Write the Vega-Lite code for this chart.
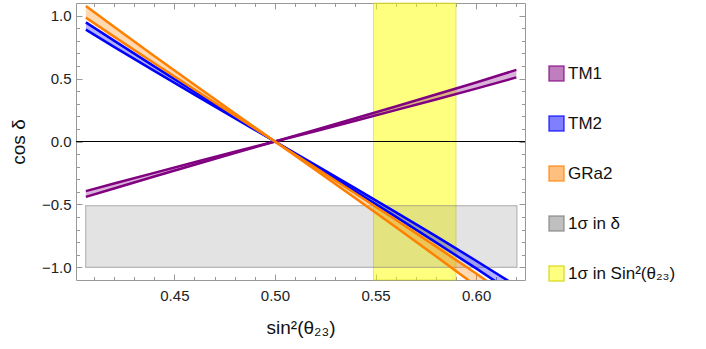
{
  "$schema": "https://vega.github.io/schema/vega-lite/v6.json",
  "width": 449,
  "height": 277,
  "autosize": {"type": "none"},
  "padding": {"left": 76, "top": 3, "right": 181, "bottom": 69},
  "background": "white",
  "config": {
    "font": "Liberation Sans",
    "view": {"stroke": "#999999", "strokeWidth": 1},
    "axis": {"grid": false, "domain": false, "tickColor": "#999999", "tickWidth": 1, "labelColor": "#222222", "titleColor": "#111111", "labelFont": "Liberation Sans", "titleFont": "Liberation Sans", "titleFontWeight": "normal", "labelFontSize": 15, "titleFontSize": 19}
  },
  "datasets": {
    "curves": [
      {"model": "TM1", "s": 0.406, "a": -0.394, "b": -0.440},
      {"model": "TM1", "s": 0.42, "a": -0.334, "b": -0.373},
      {"model": "TM1", "s": 0.44, "a": -0.249, "b": -0.278},
      {"model": "TM1", "s": 0.46, "a": -0.165, "b": -0.185},
      {"model": "TM1", "s": 0.48, "a": -0.082, "b": -0.092},
      {"model": "TM1", "s": 0.50, "a": 0.0, "b": 0.0},
      {"model": "TM1", "s": 0.52, "a": 0.082, "b": 0.092},
      {"model": "TM1", "s": 0.54, "a": 0.165, "b": 0.185},
      {"model": "TM1", "s": 0.56, "a": 0.249, "b": 0.278},
      {"model": "TM1", "s": 0.58, "a": 0.334, "b": 0.373},
      {"model": "TM1", "s": 0.60, "a": 0.420, "b": 0.469},
      {"model": "TM1", "s": 0.62, "a": 0.509, "b": 0.569},
      {"model": "TM2", "s": 0.406, "a": 0.888, "b": 0.946},
      {"model": "TM2", "s": 0.42, "a": 0.752, "b": 0.801},
      {"model": "TM2", "s": 0.44, "a": 0.561, "b": 0.597},
      {"model": "TM2", "s": 0.46, "a": 0.372, "b": 0.396},
      {"model": "TM2", "s": 0.48, "a": 0.186, "b": 0.198},
      {"model": "TM2", "s": 0.50, "a": 0.0, "b": 0.0},
      {"model": "TM2", "s": 0.52, "a": -0.186, "b": -0.198},
      {"model": "TM2", "s": 0.54, "a": -0.372, "b": -0.396},
      {"model": "TM2", "s": 0.56, "a": -0.561, "b": -0.597},
      {"model": "TM2", "s": 0.58, "a": -0.752, "b": -0.801},
      {"model": "TM2", "s": 0.60, "a": -0.947, "b": -1.008},
      {"model": "TM2", "s": 0.62, "a": -1.147, "b": -1.221},
      {"model": "GRa2", "s": 0.406, "a": 0.984, "b": 1.076},
      {"model": "GRa2", "s": 0.42, "a": 0.833, "b": 0.911},
      {"model": "GRa2", "s": 0.44, "a": 0.621, "b": 0.679},
      {"model": "GRa2", "s": 0.46, "a": 0.413, "b": 0.451},
      {"model": "GRa2", "s": 0.48, "a": 0.206, "b": 0.225},
      {"model": "GRa2", "s": 0.50, "a": 0.0, "b": 0.0},
      {"model": "GRa2", "s": 0.52, "a": -0.206, "b": -0.225},
      {"model": "GRa2", "s": 0.54, "a": -0.413, "b": -0.451},
      {"model": "GRa2", "s": 0.56, "a": -0.621, "b": -0.679},
      {"model": "GRa2", "s": 0.58, "a": -0.833, "b": -0.911},
      {"model": "GRa2", "s": 0.60, "a": -1.049, "b": -1.147},
      {"model": "GRa2", "s": 0.62, "a": -1.271, "b": -1.389}
    ]
  },
  "layer": [
    {
      "data": {"values": [{"model": "1σ in Sin²(θ₂₃)", "x1": 0.549, "x2": 0.590, "y1": -1.1, "y2": 1.1}]},
      "mark": {"type": "rect", "fillOpacity": 0.5, "strokeWidth": 1, "strokeOpacity": 0.5},
      "encoding": {
        "x": {"field": "x1", "type": "quantitative", "scale": {"domain": [0.4011, 0.6243], "nice": false, "zero": false},
          "axis": {"orient": "bottom", "values": [0.45, 0.5, 0.55, 0.6], "format": ".2f", "tickSize": -6, "labelPadding": 14, "title": "sin²(θ₂₃)", "titlePadding": 15}},
        "x2": {"field": "x2"},
        "y": {"field": "y1", "type": "quantitative", "scale": {"domain": [-1.1, 1.1], "nice": false, "zero": false},
          "axis": {"orient": "left", "values": [-1, -0.5, 0, 0.5, 1], "labelExpr": "datum.value < 0 ? '\u2212' + format(-datum.value, '.1f') : format(datum.value, '.1f')", "tickSize": -6, "labelPadding": 11, "title": "cos δ", "titlePadding": 13}},
        "y2": {"field": "y2"},
        "fill": {"field": "model", "type": "nominal",
          "scale": {"domain": ["TM1", "TM2", "GRa2", "1σ in δ", "1σ in Sin²(θ₂₃)"], "range": ["#800080", "#0000ff", "#ff8000", "#808080", "#ffff00"]},
          "legend": {"title": null, "orient": "none", "legendX": 472, "legendY": 62, "symbolType": "square", "symbolSize": 225, "rowPadding": 29, "labelFontSize": 17, "labelFont": "Liberation Sans", "labelColor": "#111111", "symbolStrokeWidth": 1.5, "labelOffset": 3,
            "encode": {"symbols": {"update": {"fillOpacity": {"value": 0.5}, "strokeOpacity": {"value": 0.7}, "opacity": {"value": 1}}}}}},
        "stroke": {"field": "model", "type": "nominal",
          "scale": {"domain": ["TM1", "TM2", "GRa2", "1σ in δ", "1σ in Sin²(θ₂₃)"], "range": ["#800080", "#0000ff", "#ff8000", "#808080", "#d0d000"]},
          "legend": {"title": null, "orient": "none", "legendX": 472, "legendY": 62, "symbolType": "square", "symbolSize": 225, "rowPadding": 29, "labelFontSize": 17, "labelFont": "Liberation Sans", "labelColor": "#111111", "symbolStrokeWidth": 1.5, "labelOffset": 3,
            "encode": {"symbols": {"update": {"fillOpacity": {"value": 0.5}, "strokeOpacity": {"value": 0.7}, "opacity": {"value": 1}}}}}}
      }
    },
    {
      "data": {"values": [{"model": "1σ in δ", "x1": 0.4059, "x2": 0.6203, "y1": -1.0, "y2": -0.51}]},
      "mark": {"type": "rect", "fillOpacity": 0.22, "strokeWidth": 1.2, "strokeOpacity": 0.5},
      "encoding": {
        "x": {"field": "x1", "type": "quantitative", "axis": {"orient": "top", "values": [0.45, 0.5, 0.55, 0.6], "labels": false, "title": null, "tickSize": -6}},
        "x2": {"field": "x2"},
        "y": {"field": "y1", "type": "quantitative", "axis": {"orient": "right", "values": [-1, -0.5, 0, 0.5, 1], "labels": false, "title": null, "tickSize": -6}},
        "y2": {"field": "y2"},
        "fill": {"field": "model", "type": "nominal"},
        "stroke": {"field": "model", "type": "nominal"}
      }
    },
    {
      "data": {"values": [{"z": 0}]},
      "mark": {"type": "rule", "color": "black", "strokeWidth": 1},
      "encoding": {"y": {"field": "z", "type": "quantitative", "axis": null}}
    },
    {
      "data": {"name": "curves"},
      "mark": {"type": "area", "fillOpacity": 0.3, "clip": true},
      "encoding": {
        "x": {"field": "s", "type": "quantitative", "axis": {"orient": "bottom", "values": [0.41, 0.42, 0.43, 0.44, 0.46, 0.47, 0.48, 0.49, 0.51, 0.52, 0.53, 0.54, 0.56, 0.57, 0.58, 0.59, 0.61, 0.62], "labels": false, "title": null, "tickSize": -3.5}},
        "y": {"field": "a", "type": "quantitative", "axis": {"orient": "left", "values": [-0.9, -0.8, -0.7, -0.6, -0.4, -0.3, -0.2, -0.1, 0.1, 0.2, 0.3, 0.4, 0.6, 0.7, 0.8, 0.9], "labels": false, "title": null, "tickSize": -3.5}},
        "y2": {"field": "b"},
        "fill": {"field": "model", "type": "nominal"},
        "detail": {"field": "model"}
      }
    },
    {
      "data": {"name": "curves"},
      "transform": [{"fold": ["a", "b"], "as": ["bound", "v"]}],
      "mark": {"type": "line", "strokeWidth": 2.5, "clip": true},
      "encoding": {
        "x": {"field": "s", "type": "quantitative", "axis": {"orient": "top", "values": [0.41, 0.42, 0.43, 0.44, 0.46, 0.47, 0.48, 0.49, 0.51, 0.52, 0.53, 0.54, 0.56, 0.57, 0.58, 0.59, 0.61, 0.62], "labels": false, "title": null, "tickSize": -3.5}},
        "y": {"field": "v", "type": "quantitative", "axis": {"orient": "right", "values": [-0.9, -0.8, -0.7, -0.6, -0.4, -0.3, -0.2, -0.1, 0.1, 0.2, 0.3, 0.4, 0.6, 0.7, 0.8, 0.9], "labels": false, "title": null, "tickSize": -3.5}},
        "stroke": {"field": "model", "type": "nominal"},
        "detail": {"field": "bound"}
      }
    }
  ],
  "resolve": {"axis": {"x": "independent", "y": "independent"}}
}
